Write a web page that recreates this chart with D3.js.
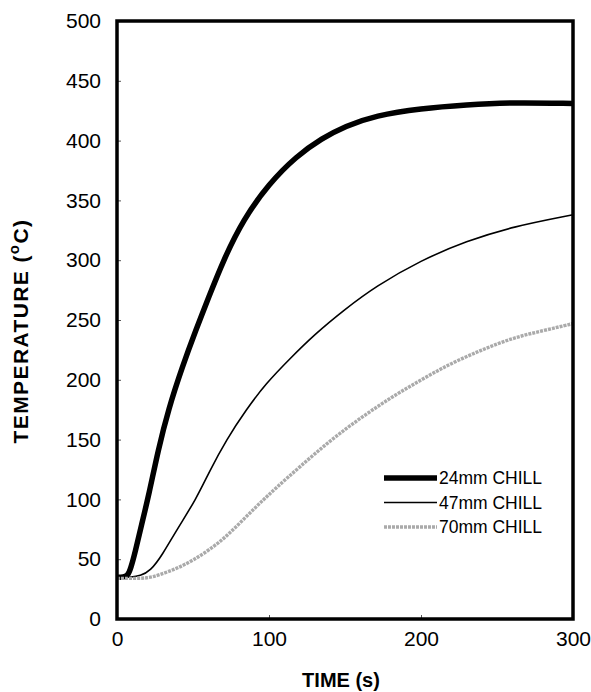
<!DOCTYPE html>
<html><head><meta charset="utf-8">
<script src="https://cdn.jsdelivr.net/npm/d3@7"></script>
<style>body{margin:0;background:#fff}text{font-family:"Liberation Sans",Arial,sans-serif}</style>
</head><body><svg id="c" width="591" height="692"></svg>
<script>
const seriesNames = ["24mm CHILL", "47mm CHILL", "70mm CHILL"];
const t24 = [0, 4, 7, 9, 12, 16, 21, 27, 34, 43, 52, 60, 70, 83, 100, 118, 135, 150, 170, 200, 230, 260, 300];
const v24 = [35, 35, 36, 42, 56, 78, 104, 141, 176, 211, 242, 268, 300, 334, 364, 387, 402, 412, 421, 427, 430, 432, 431];
const t47 = [0, 10, 15, 22, 30, 39, 52, 61, 72, 85, 98, 114, 130, 150, 170, 200, 230, 260, 300];
const v47 = [35, 35, 36, 40, 54, 74, 100, 124, 150, 175, 197, 218, 238, 259, 278, 300, 316, 328, 338];
const t70 = [0, 10, 20, 28, 39, 50, 61, 72, 83, 94, 105, 120, 140, 160, 180, 200, 220, 240, 260, 280, 300];
const v70 = [34, 34, 34, 37, 42, 49, 58, 69, 83, 97, 110, 127, 149, 168, 185, 200, 214, 225, 235, 241, 247];
const xTicks = [0, 100, 200, 300];
const yTicks = [0, 50, 100, 150, 200, 250, 300, 350, 400, 450, 500];

const svg = d3.select("#c");
const L = 117, R = 573, T = 21, B = 619;
const x = d3.scaleLinear().domain([0, 300]).range([L, R]);
const y = d3.scaleLinear().domain([0, 500]).range([B, T]);

// inner ticks
const yAx = svg.append("g").attr("transform", `translate(${L},0)`)
  .call(d3.axisRight(y).tickValues(yTicks).tickSize(4).tickFormat(""));
yAx.select(".domain").remove();
yAx.selectAll("line").attr("stroke", "#555").attr("stroke-width", 1);
const xAx = svg.append("g").attr("transform", `translate(0,${B})`)
  .call(d3.axisTop(x).tickValues(xTicks).tickSize(4).tickFormat(""));
xAx.select(".domain").remove();
xAx.selectAll("line").attr("stroke", "#555").attr("stroke-width", 1);

// tick labels
const yl = svg.append("g").attr("transform", `translate(${L},0)`)
  .call(d3.axisLeft(y).tickValues(yTicks).tickSize(0).tickPadding(16));
yl.select(".domain").remove();
yl.selectAll("text").attr("font-size", 21).attr("fill", "#000").attr("font-family", '"Liberation Sans",Arial,sans-serif');
const xl = svg.append("g").attr("transform", `translate(0,${B})`)
  .call(d3.axisBottom(x).tickValues(xTicks).tickSize(0).tickPadding(12));
xl.select(".domain").remove();
xl.selectAll("text").attr("font-size", 21).attr("fill", "#000").attr("font-family", '"Liberation Sans",Arial,sans-serif');

// lines
const line = d3.line().x(d => x(d[0])).y(d => y(d[1])).curve(d3.curveBasis);
const d24 = t24.map((t, i) => [t, v24[i]]);
const d47 = t47.map((t, i) => [t, v47[i]]);
const d70 = t70.map((t, i) => [t, v70[i]]);
const styles = [
  {stroke: "#000", w: 5.5, dash: null},
  {stroke: "#000", w: 1.6, dash: null},
  {stroke: "#aaaaaa", w: 3.4, dash: "3,1"}
];
[d24, d47, d70].forEach((d, i) => {
  svg.append("path").datum(d).attr("d", line).attr("fill", "none")
    .attr("stroke", styles[i].stroke).attr("stroke-width", styles[i].w)
    .attr("stroke-dasharray", styles[i].dash);
});

// frame
svg.append("rect").attr("x", L).attr("y", T).attr("width", R - L).attr("height", B - T)
  .attr("fill", "none").attr("stroke", "#000").attr("stroke-width", 3.5);

// legend
const lg = svg.append("g");
seriesNames.forEach((n, i) => {
  const yy = 478 + i * 24.5;
  lg.append("line").attr("x1", 384).attr("x2", 437).attr("y1", yy).attr("y2", yy)
    .attr("stroke", styles[i].stroke).attr("stroke-width", styles[i].w)
    .attr("stroke-dasharray", styles[i].dash);
  lg.append("text").attr("x", 439).attr("y", yy).attr("dy", "0.35em")
    .attr("font-size", 17.5).text(n);
});

// axis titles
svg.append("text").attr("x", (L + R) / 2 - 4).attr("y", 687).attr("text-anchor", "middle")
  .attr("font-size", 20).attr("font-weight", "bold").text("TIME (s)");
const yt = svg.append("text").attr("transform", "translate(28,331) rotate(-90)")
  .attr("text-anchor", "middle").attr("font-size", 21).attr("font-weight", "bold")
  .attr("letter-spacing", 1.4);
yt.append("tspan").text("TEMPERATURE (");
yt.append("tspan").attr("font-size", 15).attr("dy", -9).text("o");
yt.append("tspan").attr("dy", 9).text("C)");
</script></body></html>
